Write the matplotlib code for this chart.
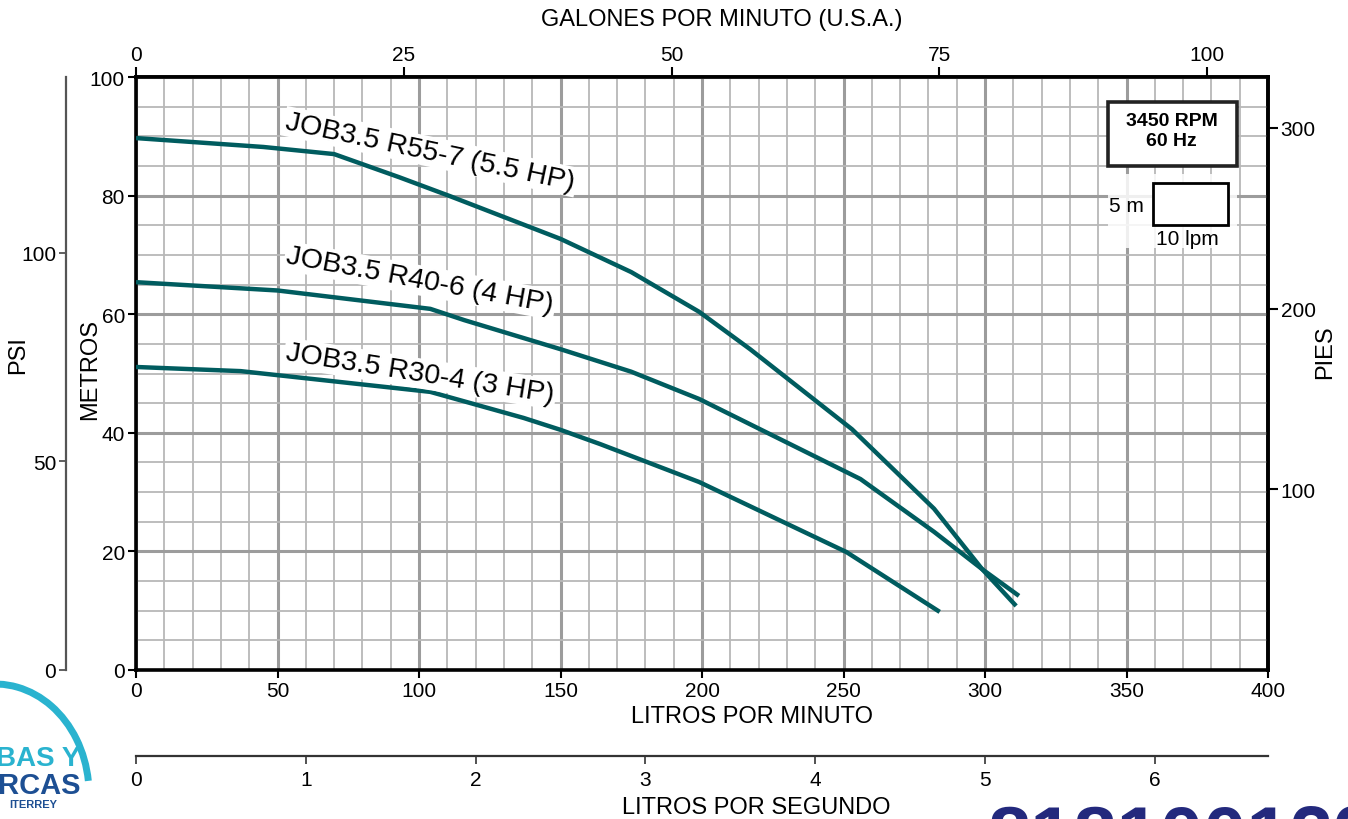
import matplotlib
matplotlib.use('Agg')
import matplotlib.pyplot as plt
from matplotlib.ticker import MultipleLocator, FixedLocator
from matplotlib.patches import Rectangle, Arc

W, H = 1348, 820
narrow = ['Liberation Sans Narrow', 'Liberation Sans', 'DejaVu Sans']
arial = ['Liberation Sans', 'DejaVu Sans']
plt.rcParams['font.family'] = narrow

# curve data: litros por minuto / metros
r55_lpm = [0, 45, 70, 93, 111, 150, 175, 199, 217, 253, 282, 299, 311]
r55_m = [89.7, 88.2, 87.0, 83.1, 79.9, 72.7, 67.1, 60.4, 54.1, 40.6, 27.2, 17.0, 10.8]
r40_lpm = [0, 50, 104, 116, 150, 175, 199, 256, 282, 299, 312]
r40_m = [65.4, 64.0, 60.9, 59.0, 54.1, 50.3, 45.7, 32.2, 23.3, 17.0, 12.5]
r30_lpm = [0, 37, 104, 137, 150, 164, 199, 251, 284]
r30_m = [51.1, 50.4, 46.9, 42.5, 40.5, 38.1, 31.7, 19.9, 9.8]

curve_labels = ['JOB3.5 R55-7 (5.5 HP)', 'JOB3.5 R40-6 (4 HP)', 'JOB3.5 R30-4 (3 HP)']
label_pos = [(104, 87.4), (100.4, 65.7), (100.4, 50.0)]
label_rot = [-12, -10.5, -9]

gpm_ticks = [0, 25, 50, 75, 100]
ft_ticks = [100, 200, 300]
psi_ticks = [0, 50, 100]
lps_ticks = [0, 1, 2, 3, 4, 5, 6]

teal = '#005c5f'


def fx(px):
    return px / W


def fy(py):
    return 1 - py / H


def main():
    fig = plt.figure(figsize=(W / 100, H / 100), dpi=100)
    ax = fig.add_axes([fx(136), fy(671), fx(1268) - fx(136), fy(78) - fy(671)])
    ax.set_xlim(0, 400)
    ax.set_ylim(0, 100)

    ax.xaxis.set_major_locator(MultipleLocator(50))
    ax.xaxis.set_minor_locator(MultipleLocator(10))
    ax.yaxis.set_major_locator(MultipleLocator(20))
    ax.yaxis.set_minor_locator(MultipleLocator(5))
    ax.grid(which='minor', color='#b8b8b8', lw=1.3)
    ax.grid(which='major', color='#9c9c9c', lw=2.2)
    ax.set_axisbelow(True)
    ax.tick_params(which='minor', length=0)
    ax.tick_params(which='major', labelsize=15, width=1.5, length=6, direction='out', pad=2)
    for s in ax.spines.values():
        s.set_linewidth(2.6)
        s.set_color('black')

    for xs, ys in [(r55_lpm, r55_m), (r40_lpm, r40_m), (r30_lpm, r30_m)]:
        ax.plot(xs, ys, color=teal, lw=3.2, solid_capstyle='butt', zorder=3)

    for txt, (lx, ly), rot in zip(curve_labels, label_pos, label_rot):
        ax.text(lx, ly, txt, family=arial, fontsize=20.5, rotation=rot,
                rotation_mode='anchor', ha='center', va='center', zorder=4,
                bbox=dict(facecolor='white', edgecolor='none', pad=1.5))

    # top: galones por minuto
    top = ax.secondary_xaxis('top', functions=(lambda x: x / 3.785411784, lambda g: g * 3.785411784))
    top.xaxis.set_major_locator(FixedLocator(gpm_ticks))
    top.tick_params(labelsize=15, width=1.5, length=7, pad=2)
    top.spines['top'].set_linewidth(2.6)

    # right: pies
    right = ax.secondary_yaxis('right', functions=(lambda m: m / 0.3048, lambda f: f * 0.3048))
    right.yaxis.set_major_locator(FixedLocator(ft_ticks))
    right.tick_params(labelsize=15, width=1.5, length=7, pad=2)
    right.spines['right'].set_linewidth(2.6)

    # far left: psi
    psi = ax.secondary_yaxis((66 - 136) / 1132, functions=(lambda m: m * 1.42197, lambda p: p / 1.42197))
    psi.yaxis.set_major_locator(FixedLocator(psi_ticks))
    psi.tick_params(labelsize=15, width=1.2, length=5, pad=2, color='#444')
    psi.spines['left'].set_linewidth(1.6)
    psi.spines['left'].set_color('#555555')

    # bottom: litros por segundo
    lps = ax.secondary_xaxis(-(757 - 671) / 593, functions=(lambda x: x / 60.0, lambda s: s * 60.0))
    lps.xaxis.set_major_locator(FixedLocator(lps_ticks))
    lps.tick_params(labelsize=15, width=1.2, length=6, pad=4, color='#333')
    lps.spines['bottom'].set_linewidth(1.6)
    lps.spines['bottom'].set_color('#333333')

    # axis titles
    fig.text(fx(722), fy(20), 'GALONES POR MINUTO (U.S.A.)', fontsize=17, ha='center', va='center')
    fig.text(fx(752), fy(717), 'LITROS POR MINUTO', fontsize=17, ha='center', va='center')
    fig.text(fx(756), fy(808), 'LITROS POR SEGUNDO', fontsize=17, ha='center', va='center')
    fig.text(fx(90), fy(370), 'METROS', fontsize=17, ha='center', va='center', rotation=90)
    fig.text(fx(18), fy(355), 'PSI', fontsize=17, ha='center', va='center', rotation=90)
    fig.text(fx(1325), fy(352), 'PIES', fontsize=17, ha='center', va='center', rotation=90)

    # info boxes (top right)
    ax.add_patch(Rectangle((343.5, 85.0), 45.5, 10.8, facecolor='white', edgecolor='#222222', lw=2.6, zorder=4))
    ax.text(366, 92.7, '3450 RPM', family=arial, fontsize=14, fontweight='bold', ha='center', va='center', zorder=5)
    ax.text(366, 89.3, '60 Hz', family=arial, fontsize=14, fontweight='bold', ha='center', va='center', zorder=5)
    ax.add_patch(Rectangle((343.5, 71.2), 45.5, 12.5, facecolor='white', edgecolor='none', alpha=0.85, zorder=4))
    ax.add_patch(Rectangle((359.4, 75.0), 26.5, 7.1, facecolor='white', edgecolor='black', lw=2, zorder=5))
    ax.text(356, 78.4, '5 m', fontsize=15, ha='right', va='center', zorder=5)
    ax.text(371.5, 72.7, '10 lpm', fontsize=15, ha='center', va='center', zorder=5)

    # logo fragment (bottom left), pixel coordinates inside its own axes (y inverted)
    lg = fig.add_axes([0, 0, fx(95), (H - 680) / H], zorder=0)
    lg.set_xlim(0, 95)
    lg.set_ylim(820, 680)
    lg.axis('off')
    lg.add_patch(Arc((-5, 795), 188, 220, theta1=262, theta2=352, color='#2ab3cf', lw=5))
    fig.text(fx(80), fy(759), 'BAS Y', family=arial, fontsize=20, fontweight='bold', color='#2ab3cf', ha='right', va='center')
    fig.text(fx(80), fy(786), 'RCAS', family=arial, fontsize=21, fontweight='bold', color='#1d4f93', ha='right', va='center')
    fig.text(fx(57), fy(805), 'ITERREY', family=arial, fontsize=8, fontweight='bold', color='#1d4f93', ha='right', va='center')

    # phone number, cut by the bottom edge
    fig.text(fx(988), -0.05, '8181001220', family=arial, fontsize=56, fontweight='bold', color='#23297d', ha='left', va='baseline')

    fig.savefig('out.png', dpi=100)


if __name__ == '__main__':
    main()
